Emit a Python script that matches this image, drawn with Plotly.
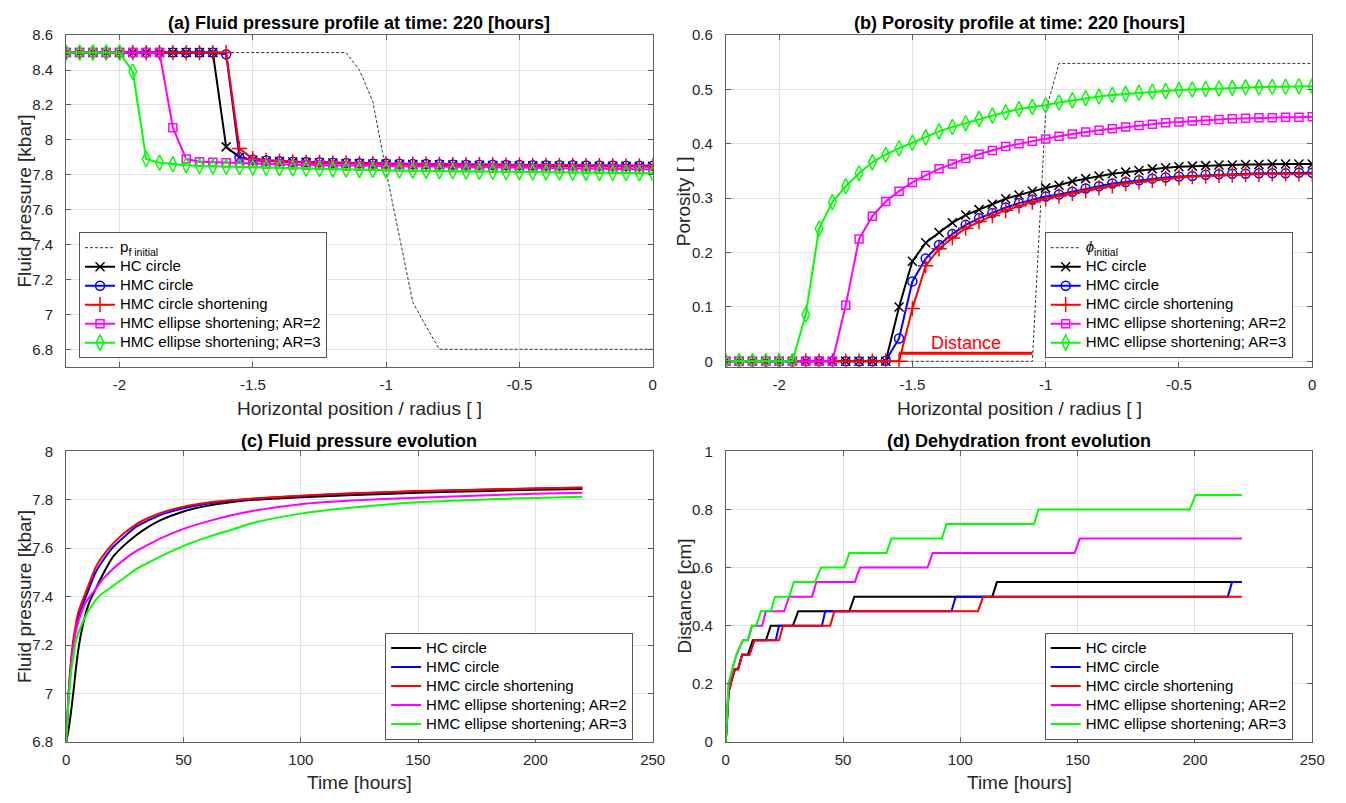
import plotly.graph_objects as go

# ---------------------------------------------------------------- data
# horizontal profile positions (position / radius)
x_pos = [-2.2, -2.15, -2.1, -2.05, -2.0, -1.95, -1.9, -1.85, -1.8,
         -1.75, -1.7, -1.65, -1.6, -1.55, -1.5, -1.45, -1.4, -1.35,
         -1.3, -1.25, -1.2, -1.15, -1.1, -1.05, -1.0, -0.95, -0.9,
         -0.85, -0.8, -0.75, -0.7, -0.65, -0.6, -0.55, -0.5, -0.45,
         -0.4, -0.35, -0.3, -0.25, -0.2, -0.15, -0.1, -0.05, 0.0]

# (a) fluid pressure profile at t = 220 h [kbar]
pf_initial = [8.5, 8.5, 8.5, 8.5, 8.5, 8.5, 8.5, 8.5, 8.5,
              8.5, 8.5, 8.5, 8.5, 8.5, 8.5, 8.5, 8.5, 8.5,
              8.5, 8.5, 8.5, 8.5, 8.40, 8.22, 7.82, 7.44, 7.07,
              6.93, 6.8, 6.8, 6.8, 6.8, 6.8, 6.8, 6.8, 6.8,
              6.8, 6.8, 6.8, 6.8, 6.8, 6.8, 6.8, 6.8, 6.8]
pf_hc_circle = [8.5, 8.5, 8.5, 8.5, 8.5, 8.5, 8.5, 8.5, 8.5,
                8.5, 8.5, 8.5, 7.96, 7.90, 7.884, 7.879, 7.876, 7.873,
                7.871, 7.869, 7.867, 7.865, 7.864, 7.862, 7.861, 7.86, 7.859,
                7.858, 7.857, 7.856, 7.855, 7.854, 7.853, 7.853, 7.852, 7.851,
                7.851, 7.85, 7.85, 7.849, 7.849, 7.849, 7.848, 7.848, 7.848]
pf_hmc_circle = [8.5, 8.5, 8.5, 8.5, 8.5, 8.5, 8.5, 8.5, 8.5,
                 8.5, 8.5, 8.5, 8.49, 7.90, 7.886, 7.881, 7.878, 7.875,
                 7.873, 7.871, 7.869, 7.868, 7.866, 7.865, 7.864, 7.863, 7.862,
                 7.861, 7.86, 7.859, 7.858, 7.858, 7.857, 7.856, 7.856, 7.855,
                 7.855, 7.854, 7.854, 7.853, 7.853, 7.853, 7.852, 7.852, 7.852]
pf_hmc_short = [8.5, 8.5, 8.5, 8.5, 8.5, 8.5, 8.5, 8.5, 8.5,
                8.5, 8.5, 8.5, 8.5, 7.95, 7.892, 7.882, 7.877, 7.874,
                7.872, 7.87, 7.868, 7.867, 7.865, 7.864, 7.863, 7.862, 7.861,
                7.86, 7.859, 7.858, 7.857, 7.857, 7.856, 7.855, 7.855, 7.854,
                7.854, 7.853, 7.853, 7.852, 7.852, 7.852, 7.851, 7.851, 7.851]
pf_ellipse_ar2 = [8.5, 8.5, 8.5, 8.5, 8.5, 8.5, 8.5, 8.5, 8.07,
                  7.89, 7.875, 7.872, 7.869, 7.866, 7.864, 7.862, 7.86, 7.858,
                  7.856, 7.855, 7.853, 7.852, 7.85, 7.849, 7.848, 7.846, 7.845,
                  7.844, 7.843, 7.842, 7.841, 7.84, 7.839, 7.838, 7.837, 7.836,
                  7.836, 7.835, 7.834, 7.834, 7.833, 7.833, 7.832, 7.832, 7.832]
pf_ellipse_ar3 = [8.5, 8.5, 8.5, 8.5, 8.5, 8.39, 7.89, 7.869, 7.86,
                  7.854, 7.85, 7.848, 7.846, 7.844, 7.842, 7.84, 7.838, 7.836,
                  7.834, 7.833, 7.831, 7.83, 7.828, 7.827, 7.825, 7.824, 7.823,
                  7.822, 7.821, 7.82, 7.819, 7.818, 7.817, 7.816, 7.815, 7.814,
                  7.813, 7.813, 7.812, 7.811, 7.811, 7.81, 7.81, 7.809, 7.809]

# (b) porosity profile at t = 220 h
phi_initial = [0, 0, 0, 0, 0, 0, 0, 0, 0,
               0, 0, 0, 0, 0, 0, 0, 0, 0,
               0, 0, 0, 0, 0, 0, 0.46, 0.548, 0.548,
               0.548, 0.548, 0.548, 0.548, 0.548, 0.548, 0.548, 0.548, 0.548,
               0.548, 0.548, 0.548, 0.548, 0.548, 0.548, 0.548, 0.548, 0.548]
phi_hc_circle = [0, 0, 0, 0, 0, 0, 0, 0, 0,
                 0, 0, 0, 0, 0.10, 0.184, 0.218, 0.237, 0.255,
                 0.269, 0.279, 0.289, 0.299, 0.306, 0.313, 0.319, 0.324, 0.331,
                 0.336, 0.341, 0.345, 0.348, 0.351, 0.354, 0.356, 0.358, 0.359,
                 0.36, 0.361, 0.361, 0.362, 0.362, 0.363, 0.363, 0.363, 0.363]
phi_hmc_circle = [0, 0, 0, 0, 0, 0, 0, 0, 0,
                  0, 0, 0, 0.001, 0.042, 0.147, 0.189, 0.214, 0.234,
                  0.251, 0.263, 0.273, 0.283, 0.291, 0.297, 0.303, 0.307, 0.312,
                  0.318, 0.322, 0.327, 0.33, 0.333, 0.336, 0.338, 0.34, 0.341,
                  0.343, 0.344, 0.345, 0.345, 0.346, 0.346, 0.346, 0.347, 0.347]
phi_hmc_short = [0, 0, 0, 0, 0, 0, 0, 0, 0,
                 0, 0, 0, 0, 0, 0.097, 0.176, 0.207, 0.227,
                 0.245, 0.257, 0.268, 0.278, 0.286, 0.293, 0.299, 0.304, 0.309,
                 0.314, 0.319, 0.323, 0.327, 0.33, 0.333, 0.336, 0.338, 0.34,
                 0.341, 0.342, 0.343, 0.344, 0.344, 0.345, 0.345, 0.345, 0.345]
phi_ellipse_ar2 = [0, 0, 0, 0, 0, 0, 0, 0, 0,
                   0.103, 0.225, 0.267, 0.294, 0.313, 0.329, 0.342, 0.354, 0.363,
                   0.373, 0.381, 0.388, 0.395, 0.40, 0.405, 0.409, 0.414, 0.418,
                   0.422, 0.425, 0.428, 0.431, 0.434, 0.436, 0.439, 0.44, 0.442,
                   0.443, 0.445, 0.446, 0.447, 0.448, 0.448, 0.449, 0.449, 0.45]
phi_ellipse_ar3 = [0, 0, 0, 0, 0, 0, 0.086, 0.244, 0.293,
                   0.322, 0.346, 0.366, 0.38, 0.392, 0.402, 0.412, 0.423, 0.431,
                   0.438, 0.446, 0.452, 0.458, 0.464, 0.468, 0.471, 0.476, 0.48,
                   0.484, 0.487, 0.49, 0.492, 0.494, 0.496, 0.497, 0.499, 0.5,
                   0.501, 0.502, 0.503, 0.504, 0.504, 0.505, 0.505, 0.506, 0.506]

# dehydration distance marker drawn in (b)
distance_x = [-1.55, -1.05]
distance_y = [0.015, 0.015]

# (c) fluid pressure evolution [kbar] vs time [hours]
time_c = [0, 1, 2, 3, 4, 5, 6, 8, 10, 12.5, 15, 20, 25, 30, 35, 40,
          50, 60, 70, 80, 100, 120, 150, 180, 200, 220]
pc_hc_circle = [6.80, 6.85, 6.92, 7.00, 7.09, 7.17, 7.23, 7.32, 7.38, 7.43, 7.48,
                7.565, 7.615, 7.655, 7.688, 7.715, 7.752, 7.775, 7.79, 7.80,
                7.811, 7.819, 7.829, 7.837, 7.842, 7.845]
pc_hmc_circle = [6.80, 6.99, 7.12, 7.20, 7.26, 7.31, 7.34, 7.39, 7.44, 7.50, 7.54,
                 7.605, 7.65, 7.69, 7.715, 7.737, 7.765, 7.784, 7.796, 7.804,
                 7.816, 7.825, 7.835, 7.843, 7.847, 7.850]
pc_hmc_short = [6.80, 7.00, 7.13, 7.22, 7.28, 7.33, 7.36, 7.41, 7.46, 7.52, 7.56,
                7.62, 7.665, 7.70, 7.725, 7.745, 7.772, 7.788, 7.798, 7.805,
                7.817, 7.826, 7.836, 7.843, 7.847, 7.851]
pc_ellipse_ar2 = [6.80, 6.98, 7.10, 7.19, 7.25, 7.29, 7.32, 7.37, 7.40, 7.43, 7.465,
                  7.515, 7.555, 7.59, 7.615, 7.64, 7.68, 7.71, 7.735, 7.755,
                  7.782, 7.796, 7.809, 7.819, 7.825, 7.829]
pc_ellipse_ar3 = [6.80, 6.97, 7.08, 7.15, 7.21, 7.245, 7.27, 7.315, 7.35, 7.385, 7.41,
                  7.445, 7.48, 7.515, 7.54, 7.565, 7.61, 7.645, 7.675, 7.705,
                  7.743, 7.766, 7.79, 7.802, 7.808, 7.813]

# (d) dehydration front distance [cm] vs time [hours]
td_hc_circle = [0, 1.2, 2.4, 4.0, 5.2, 7.0, 9.4, 11.5, 17.1, 19.2, 28.6, 30.9,
                52.7, 54.8, 113.6, 115.6, 220]
d_hc_circle = [0, 0.17, 0.21, 0.25, 0.25, 0.30, 0.30, 0.35, 0.35, 0.40, 0.40, 0.45,
               0.45, 0.50, 0.50, 0.55, 0.55]
td_hmc_circle = [0, 1.2, 2.4, 3.8, 5.2, 7.0, 10.1, 12.2, 21.3, 22.7, 41.0, 42.4,
                 96.2, 98.0, 214.0, 215.8, 220]
d_hmc_circle = [0, 0.17, 0.21, 0.25, 0.25, 0.30, 0.30, 0.35, 0.35, 0.40, 0.40, 0.45,
                0.45, 0.50, 0.50, 0.55, 0.55]
td_hmc_short = [0, 1.2, 2.4, 3.8, 5.2, 7.0, 10.1, 12.2, 22.7, 24.4, 44.5, 46.3,
                107.5, 109.7, 220]
d_hmc_short = [0, 0.17, 0.21, 0.25, 0.25, 0.30, 0.30, 0.35, 0.35, 0.40, 0.40, 0.45,
               0.45, 0.50, 0.50]
td_ellipse_ar2 = [0, 1.2, 2.8, 4.5, 7.3, 9.4, 11.2, 15.5, 17.1, 24.9, 27.0, 36.8,
                  38.6, 55.0, 57.2, 86.0, 88.2, 148.7, 150.9, 220]
d_ellipse_ar2 = [0, 0.20, 0.25, 0.30, 0.35, 0.35, 0.40, 0.40, 0.45, 0.45, 0.50, 0.50,
                 0.55, 0.55, 0.60, 0.60, 0.65, 0.65, 0.70, 0.70]
td_ellipse_ar3 = [0, 1.2, 2.8, 4.5, 7.3, 9.4, 11.2, 13.0, 15.0, 19.2, 21.0, 27.0,
                  29.0, 38.0, 40.6, 50.5, 52.7, 68.5, 70.6, 92.1, 94.1, 131.4,
                  133.3, 197.8, 200.2, 220]
d_ellipse_ar3 = [0, 0.20, 0.25, 0.30, 0.35, 0.35, 0.40, 0.40, 0.45, 0.45, 0.50, 0.50,
                 0.55, 0.55, 0.60, 0.60, 0.65, 0.65, 0.70, 0.70, 0.75, 0.75,
                 0.80, 0.80, 0.85, 0.85]

# tick values and labels
pos_ticks = [-2, -1.5, -1, -0.5, 0]
pos_labels = ["-2", "-1.5", "-1", "-0.5", "0"]
pf_ticks = [6.8, 7.0, 7.2, 7.4, 7.6, 7.8, 8.0, 8.2, 8.4, 8.6]
pf_labels = ["6.8", "7", "7.2", "7.4", "7.6", "7.8", "8", "8.2", "8.4", "8.6"]
phi_ticks = [0, 0.1, 0.2, 0.3, 0.4, 0.5, 0.6]
phi_labels = ["0", "0.1", "0.2", "0.3", "0.4", "0.5", "0.6"]
time_ticks = [0, 50, 100, 150, 200, 250]
time_labels = ["0", "50", "100", "150", "200", "250"]
pc_ticks = [6.8, 7.0, 7.2, 7.4, 7.6, 7.8, 8.0]
pc_labels = ["6.8", "7", "7.2", "7.4", "7.6", "7.8", "8"]
dist_ticks = [0, 0.2, 0.4, 0.6, 0.8, 1.0]
dist_labels = ["0", "0.2", "0.4", "0.6", "0.8", "1"]

series_names = ["HC circle", "HMC circle", "HMC circle shortening",
                "HMC ellipse shortening; AR=2", "HMC ellipse shortening; AR=3"]
series_colors = ["#000000", "#0000ff", "#ff0000", "#ff00ff", "#00ff00"]
series_symbols = ["x-thin-open", "circle-open", "cross-thin-open",
                  "square-open", "diamond-tall-open"]
series_sizes = [9, 9, 11, 8, 11]

# ---------------------------------------------------------------- figure
W, H = 1346, 803
FONT = "Liberation Sans, Arial, Helvetica, sans-serif"
AX_COLOR = "#5e5e5e"
GRID = "#e2e2e2"


def px_x(p):
    return p / W


def px_y(p):
    return 1 - p / H


def entry(text):
    # legend rows are spaced from the (small) legend font size,
    # while the visible label is drawn at 15 px
    return '<span style="font-size:15px">' + text + "</span>"


fig = go.Figure()

# (a) fluid pressure profile
fig.add_trace(go.Scatter(
    x=x_pos, y=pf_initial, mode="lines", name=entry("p<sub>f initial</sub>"),
    line=dict(color="#333333", width=1, dash="3px,2px"),
    xaxis="x", yaxis="y", legend="legend"))
for name, col, sym, sz, vals in zip(series_names, series_colors, series_symbols, series_sizes,
                                    [pf_hc_circle, pf_hmc_circle, pf_hmc_short,
                                     pf_ellipse_ar2, pf_ellipse_ar3]):
    fig.add_trace(go.Scatter(
        x=x_pos, y=vals, mode="lines+markers", name=entry(name),
        line=dict(color=col, width=2),
        marker=dict(symbol=sym, size=sz, color=col, line=dict(color=col, width=1.5)),
        xaxis="x", yaxis="y", legend="legend"))

# (b) porosity profile
fig.add_trace(go.Scatter(
    x=x_pos, y=phi_initial, mode="lines", name=entry("<i>ϕ</i><sub>initial</sub>"),
    line=dict(color="#333333", width=1, dash="3px,2px"),
    xaxis="x2", yaxis="y2", legend="legend2"))
for name, col, sym, sz, vals in zip(series_names, series_colors, series_symbols, series_sizes,
                                    [phi_hc_circle, phi_hmc_circle, phi_hmc_short,
                                     phi_ellipse_ar2, phi_ellipse_ar3]):
    fig.add_trace(go.Scatter(
        x=x_pos, y=vals, mode="lines+markers", name=entry(name),
        line=dict(color=col, width=2),
        marker=dict(symbol=sym, size=sz, color=col, line=dict(color=col, width=1.5)),
        xaxis="x2", yaxis="y2", legend="legend2"))
fig.add_trace(go.Scatter(
    x=distance_x, y=distance_y, mode="lines", showlegend=False,
    line=dict(color="#ff0000", width=3), xaxis="x2", yaxis="y2"))

# (c) fluid pressure evolution
for name, col, vals in zip(series_names, series_colors,
                           [pc_hc_circle, pc_hmc_circle, pc_hmc_short,
                            pc_ellipse_ar2, pc_ellipse_ar3]):
    fig.add_trace(go.Scatter(
        x=time_c, y=vals, mode="lines", name=entry(name),
        line=dict(color=col, width=2, shape="spline", smoothing=0.6),
        xaxis="x3", yaxis="y3", legend="legend3"))

# (d) dehydration front evolution
for name, col, tt, vals in zip(series_names, series_colors,
                               [td_hc_circle, td_hmc_circle, td_hmc_short,
                                td_ellipse_ar2, td_ellipse_ar3],
                               [d_hc_circle, d_hmc_circle, d_hmc_short,
                                d_ellipse_ar2, d_ellipse_ar3]):
    fig.add_trace(go.Scatter(
        x=tt, y=vals, mode="lines", name=entry(name),
        line=dict(color=col, width=2),
        xaxis="x4", yaxis="y4", legend="legend4"))


def axis(domain, rng, ticks, labels, anchor, standoff):
    return dict(
        domain=domain, range=rng, anchor=anchor,
        tickmode="array", tickvals=ticks, ticktext=labels,
        showline=True, linecolor=AX_COLOR, linewidth=1, mirror="ticks",
        ticks="inside", ticklen=5, tickwidth=1, tickcolor=AX_COLOR,
        showgrid=True, gridcolor=GRID, gridwidth=1, zeroline=False,
        tickfont=dict(family=FONT, size=15, color="#262626"),
        ticklabelstandoff=standoff,
    )


xa = [px_x(63), px_x(657)]
xb = [px_x(731), px_x(1325)]
y_top = [px_y(365.5), px_y(26.7)]
y_bot = [px_y(748.7), px_y(452)]

legend_style = dict(
    bgcolor="#ffffff", bordercolor="#555555", borderwidth=1,
    font=dict(family=FONT, size=12, color="#000000"),
    xanchor="left", yanchor="top", tracegroupgap=0, itemwidth=30,
)

fig.update_layout(
    width=W, height=H,
    margin=dict(l=0, r=0, t=0, b=0),
    paper_bgcolor="#ffffff", plot_bgcolor="#ffffff",
    font=dict(family=FONT, color="#262626"),
    xaxis=axis(xa, [-2.2, 0], pos_ticks, pos_labels, "y", 4),
    yaxis=axis(y_top, [6.7, 8.6], pf_ticks, pf_labels, "x", 9),
    xaxis2=axis(xb, [-2.2, 0], pos_ticks, pos_labels, "y2", 4),
    yaxis2=axis(y_top, [-0.01, 0.6], phi_ticks, phi_labels, "x2", 9),
    xaxis3=axis(xa, [0, 250], time_ticks, time_labels, "y3", 4),
    yaxis3=axis(y_bot, [6.8, 8.0], pc_ticks, pc_labels, "x3", 9),
    xaxis4=axis(xb, [0, 250], time_ticks, time_labels, "y4", 4),
    yaxis4=axis(y_bot, [0, 1.0], dist_ticks, dist_labels, "x4", 9),
    legend=dict(x=px_x(76), y=px_y(228), **legend_style),
    legend2=dict(x=px_x(1054), y=px_y(228), **legend_style),
    legend3=dict(x=px_x(386), y=px_y(637), **legend_style),
    legend4=dict(x=px_x(1054), y=px_y(637), **legend_style),
)

title_font = dict(family=FONT, size=18, color="#000000")
label_font = dict(family=FONT, size=19, color="#262626")

annotations = [
    # panel titles
    dict(text="<b>(a) Fluid pressure profile at time: 220 [hours]</b>", x=px_x(360), y=px_y(14)),
    dict(text="<b>(b) Porosity profile at time: 220 [hours]</b>", x=px_x(1028), y=px_y(14)),
    dict(text="<b>(c) Fluid pressure evolution</b>", x=px_x(360), y=px_y(441)),
    dict(text="<b>(d) Dehydration front evolution</b>", x=px_x(1028), y=px_y(441)),
]
for a in annotations:
    a.update(xref="paper", yref="paper", showarrow=False, font=title_font,
             xanchor="center", yanchor="middle")

axis_titles = [
    dict(text="Horizontal position / radius [ ]", x=px_x(360), y=px_y(408), textangle=0),
    dict(text="Horizontal position / radius [ ]", x=px_x(1028), y=px_y(408), textangle=0),
    dict(text="Time [hours]", x=px_x(360), y=px_y(790), textangle=0),
    dict(text="Time [hours]", x=px_x(1028), y=px_y(790), textangle=0),
    dict(text="Fluid pressure [kbar]", x=px_x(21), y=px_y(196), textangle=-90),
    dict(text="Porosity [ ]", x=px_x(689), y=px_y(196), textangle=-90),
    dict(text="Fluid pressure [kbar]", x=px_x(21), y=px_y(600), textangle=-90),
    dict(text="Distance [cm]", x=px_x(689), y=px_y(600), textangle=-90),
]
for a in axis_titles:
    a.update(xref="paper", yref="paper", showarrow=False, font=label_font,
             xanchor="center", yanchor="middle")
annotations += axis_titles

# label of the dehydration distance marker
annotations.append(dict(
    text="Distance", x=-1.3, y=0.033, xref="x2", yref="y2", showarrow=False,
    font=dict(family=FONT, size=18, color="#ff0000"), xanchor="center", yanchor="middle"))

fig.update_layout(annotations=annotations)

fig.write_html("out.html")
